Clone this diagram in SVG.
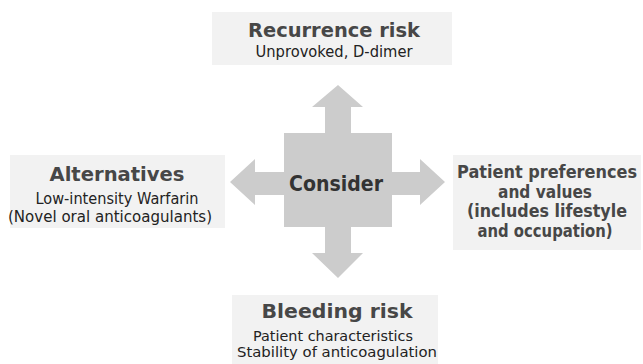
<svg xmlns="http://www.w3.org/2000/svg" width="643" height="364" viewBox="0 0 643 364">
<style>
.box{fill:#f2f2f2;}
.t{font-family:"DejaVu Sans",Verdana,sans-serif;font-weight:bold;font-size:20px;fill:#474747;text-anchor:middle;}
.s{font-family:"DejaVu Sans",Verdana,sans-serif;font-size:15px;fill:#222;text-anchor:middle;}
.b{font-family:"DejaVu Sans",Verdana,sans-serif;font-size:14px;fill:#222;text-anchor:middle;}
.r{font-family:"DejaVu Sans",Verdana,sans-serif;font-weight:bold;font-size:17px;fill:#474747;text-anchor:middle;}
.arrow{fill:#cccccc;}
</style>
<rect width="643" height="364" fill="#ffffff"/>
<g id="connectors">
<path class="arrow" d="M284,133 H325 V107 H312 L338,85 L363,107 H351 V133 H392 V172 H420 V159 L445,182 L420,205 V195 H392 V227 H351 V253 H363 L338,278 L312,253 H325 V227 H284 V195 H255 V205 L230,182 L255,159 V172 H284 Z"/>
</g>
<g id="consider">
<text x="336" y="191" font-family="DejaVu Sans,Verdana,sans-serif" font-weight="bold" font-size="21" fill="#333" text-anchor="middle" textLength="94" lengthAdjust="spacingAndGlyphs">Consider</text>
</g>
<g id="recurrence">
<rect class="box" x="212" y="12" width="240" height="53"/>
<text class="t" x="334" y="37" textLength="172" lengthAdjust="spacingAndGlyphs">Recurrence risk</text>
<text class="s" x="334" y="57" textLength="157" lengthAdjust="spacingAndGlyphs">Unprovoked, D-dimer</text>
</g>
<g id="alternatives">
<rect class="box" x="10" y="155" width="215" height="73"/>
<text class="t" x="117" y="181" textLength="135" lengthAdjust="spacingAndGlyphs">Alternatives</text>
<text class="s" x="117" y="204" textLength="163" lengthAdjust="spacingAndGlyphs">Low-intensity Warfarin</text>
<text class="s" x="110" y="222" textLength="204" lengthAdjust="spacingAndGlyphs">(Novel oral anticoagulants)</text>
</g>
<g id="preferences">
<rect class="box" x="453" y="155" width="188" height="95"/>
<text class="r" x="547" y="178" textLength="180" lengthAdjust="spacingAndGlyphs">Patient preferences</text>
<text class="r" x="545" y="198" textLength="94" lengthAdjust="spacingAndGlyphs">and values</text>
<text class="r" x="547" y="217" textLength="160" lengthAdjust="spacingAndGlyphs">(includes lifestyle</text>
<text class="r" x="545" y="237" textLength="135" lengthAdjust="spacingAndGlyphs">and occupation)</text>
</g>
<g id="bleeding">
<rect class="box" x="232" y="295" width="206" height="69"/>
<text class="t" x="337" y="318" textLength="151" lengthAdjust="spacingAndGlyphs">Bleeding risk</text>
<text class="b" x="333" y="341" textLength="160" lengthAdjust="spacingAndGlyphs">Patient characteristics</text>
<text class="b" x="337" y="357" textLength="200" lengthAdjust="spacingAndGlyphs">Stability of anticoagulation</text>
</g>
</svg>
